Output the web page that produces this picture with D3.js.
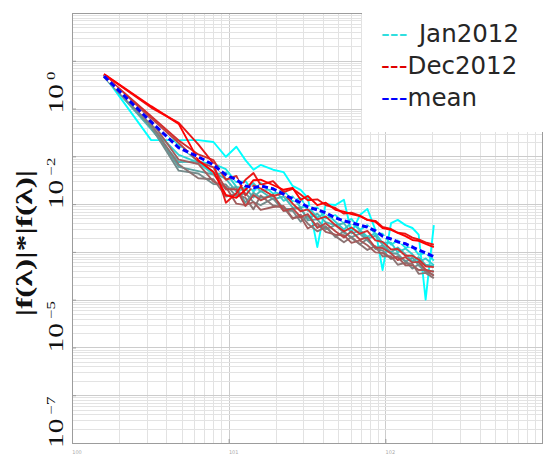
<!DOCTYPE html>
<html>
<head>
<meta charset="utf-8">
<script src="https://cdn.jsdelivr.net/npm/d3@7"></script>
<style>
  body { margin: 0; background: #fff; }
</style>
</head>
<body>
<script>
// frequency points shared by every curve
var freq = [1.6, 3.2, 4.8, 6.4, 8, 9.6, 11.2, 12.8, 14.4, 16, 19.2, 22.4, 25.6, 28.8, 32, 36.8,
            41.6, 48, 54.4, 60.8, 68.8, 76.8, 86.4, 96, 108.8, 120, 134.4, 148.8, 163.2, 180.8, 204];

// log10 of |f(λ)|*|f(λ)| per month
var jan2012 = [0.70, -0.66, -0.66, -0.66, -0.70, -1.01, -0.80, -1.08, -1.28, -1.18, -1.28, -1.33, -1.62, -1.70, -1.87, -2.90, -2.00, -2.02, -1.91, -2.60, -2.23, -2.10, -2.54, -3.38, -2.40, -2.33, -2.44, -2.50, -2.64, -4.00, -2.44];
var feb2012 = [0.68, -0.33, -0.77, -1.11, -1.16, -1.27, -1.54, -1.52, -1.74, -1.56, -1.78, -1.71, -1.94, -1.87, -2.14, -2.07, -2.30, -2.23, -2.39, -2.31, -2.54, -2.44, -2.62, -2.62, -2.85, -2.76, -2.91, -2.88, -3.06, -3.02, -3.18];
var mar2012 = [0.70, -0.38, -0.97, -1.13, -1.38, -1.34, -1.64, -1.67, -1.56, -1.74, -1.66, -1.93, -1.84, -2.07, -2.04, -2.28, -2.18, -2.37, -2.53, -2.39, -2.54, -2.68, -2.61, -2.81, -2.81, -3.01, -2.93, -3.05, -3.21, -3.14, -3.28];
var apr2012 = [0.68, -0.43, -1.12, -1.11, -1.33, -1.47, -1.74, -1.67, -1.86, -1.72, -1.90, -1.84, -2.07, -2.09, -2.31, -2.20, -2.38, -2.44, -2.40, -2.61, -2.56, -2.73, -2.66, -2.85, -3.01, -2.91, -3.05, -3.20, -3.11, -3.27, -3.30];
var may2012 = [0.66, -0.40, -1.22, -1.31, -1.38, -1.69, -1.64, -1.97, -1.76, -1.87, -1.83, -2.09, -2.11, -2.07, -2.34, -2.32, -2.53, -2.44, -2.60, -2.69, -2.62, -2.76, -2.91, -2.87, -3.03, -3.04, -3.21, -3.12, -3.28, -3.42, -3.40];
var jun2012 = [0.68, -0.38, -1.30, -1.36, -1.58, -1.59, -1.84, -1.77, -1.96, -2.02, -1.88, -2.14, -2.14, -2.37, -2.24, -2.47, -2.46, -2.69, -2.57, -2.71, -2.84, -2.73, -2.94, -2.97, -3.15, -3.09, -3.19, -3.35, -3.26, -3.42, -3.48];
var jul2012 = [0.70, -0.33, -1.17, -1.46, -1.48, -1.84, -1.79, -1.87, -2.11, -1.82, -2.03, -2.07, -2.31, -2.22, -2.41, -2.57, -2.48, -2.67, -2.80, -2.69, -2.84, -2.96, -2.88, -3.09, -3.09, -3.27, -3.23, -3.25, -3.46, -3.44, -3.55];
var aug2012 = [0.68, -0.26, -1.07, -1.16, -1.53, -1.64, -1.99, -2.02, -1.96, -2.12, -2.06, -2.04, -2.29, -2.27, -2.51, -2.40, -2.58, -2.64, -2.65, -2.81, -2.76, -2.86, -3.01, -3.02, -3.13, -3.11, -3.28, -3.28, -3.38, -3.38, -3.50];
var sep2012 = [0.70, -0.20, -0.72, -1.11, -1.23, -1.69, -1.69, -2.04, -1.81, -1.92, -1.80, -2.14, -2.09, -2.27, -2.21, -2.50, -2.40, -2.57, -2.70, -2.57, -2.74, -2.70, -2.91, -2.92, -3.03, -3.17, -3.11, -3.22, -3.21, -3.37, -3.42];
var oct2012 = [0.70, -0.16, -0.67, -0.96, -1.08, -1.49, -1.41, -1.82, -1.61, -1.67, -1.83, -1.77, -1.99, -2.15, -2.11, -2.32, -2.26, -2.44, -2.57, -2.49, -2.62, -2.56, -2.76, -2.79, -2.95, -2.94, -3.08, -3.08, -3.16, -3.30, -3.32];
var nov2012 = [0.72, 0.02, -0.30, -0.75, -1.15, -1.97, -1.77, -1.49, -1.35, -1.60, -1.52, -1.75, -1.68, -1.80, -1.92, -1.90, -2.02, -2.08, -2.20, -2.18, -2.24, -2.33, -2.35, -2.48, -2.52, -2.60, -2.62, -2.70, -2.74, -2.80, -2.85];
var dec2012 = [0.72, 0.05, -0.32, -1.08, -1.33, -1.81, -1.87, -1.70, -1.50, -1.49, -1.60, -1.70, -1.66, -1.91, -1.83, -2.02, -1.97, -2.12, -2.16, -2.21, -2.25, -2.33, -2.37, -2.50, -2.54, -2.60, -2.67, -2.75, -2.77, -2.83, -2.90];
var meanLog = [0.68, -0.28, -0.82, -1.01, -1.18, -1.39, -1.49, -1.62, -1.66, -1.62, -1.68, -1.79, -1.89, -1.97, -2.06, -2.12, -2.18, -2.29, -2.35, -2.39, -2.44, -2.48, -2.56, -2.67, -2.73, -2.79, -2.83, -2.90, -2.96, -3.02, -3.10];

var legendNames = ["Jan2012", "Dec2012", "mean"];
var legendColors = ["#30dede", "#e00000", "#0000ff"];
var yTickValues = [1, 1e-2, 1e-5, 1e-7];
var yTickExp = ["0", "\u22122", "\u22125", "\u22127"];
var xTickValues = [1, 10, 100];
var xTickExp = ["0", "1", "2"];
var yLabel = "|f(\u03bb)|*|f(\u03bb)|";

var W = 547, H = 462;
var plotL = 72, plotR = 542, plotT = 13, plotB = 443;

var months = [jan2012, feb2012, mar2012, apr2012, may2012, jun2012,
              jul2012, aug2012, sep2012, oct2012, nov2012, dec2012];
var monthColor = d3.interpolateRgb("#00ffff", "#ff0000");

var x = d3.scaleLog().domain([1, 1000]).range([plotL, plotR]);
var y = d3.scaleLog().domain([1e-7, 1e2]).range([plotB, plotT]);

var svg = d3.select("body").append("svg")
    .attr("width", W)
    .attr("height", H)
    .style("font-family", "'DejaVu Sans', sans-serif");

// log grid
var xGrid = [], yGrid = [];
for (var d = 0; d < 3; d++)
  for (var k = 1; k < 10; k++) xGrid.push({v: k * Math.pow(10, d), major: k === 1});
for (var e = -7; e < 2; e++)
  for (var k = 1; k < 10; k++) yGrid.push({v: k * Math.pow(10, e), major: k === 1});

var grid = svg.append("g");
grid.selectAll(".gx").data(xGrid).enter().append("line")
    .attr("x1", function(d) { return Math.round(x(d.v)) + 0.5; })
    .attr("x2", function(d) { return Math.round(x(d.v)) + 0.5; })
    .attr("y1", plotT).attr("y2", plotB)
    .attr("stroke", function(d) { return d.major ? "#cccccc" : "#e2e2e2"; });
grid.selectAll(".gy").data(yGrid).enter().append("line")
    .attr("y1", function(d) { return Math.round(y(d.v)) + 0.5; })
    .attr("y2", function(d) { return Math.round(y(d.v)) + 0.5; })
    .attr("x1", plotL).attr("x2", plotR)
    .attr("stroke", function(d) { return d.major ? "#cccccc" : "#e3e3e3"; });

// axes: inward ticks, no labels from d3
svg.append("g")
    .attr("transform", "translate(" + plotL + ",0)")
    .call(d3.axisLeft(y).tickValues(yGrid.filter(function(d) { return d.major; }).map(function(d) { return d.v; }))
        .tickSize(-4).tickFormat(""))
    .call(function(g) { g.select(".domain").remove(); g.selectAll("line").attr("stroke", "#999"); });
svg.append("g")
    .attr("transform", "translate(0," + plotB + ")")
    .call(d3.axisBottom(x).tickValues(xGrid.filter(function(d) { return d.major; }).map(function(d) { return d.v; }))
        .tickSize(-4).tickFormat(""))
    .call(function(g) { g.select(".domain").remove(); g.selectAll("line").attr("stroke", "#999"); });

svg.append("rect")
    .attr("x", plotL + 0.5).attr("y", plotT + 0.5)
    .attr("width", plotR - plotL).attr("height", plotB - plotT)
    .attr("fill", "none").attr("stroke", "#9c9c9c");

// monthly curves
var line = d3.line()
    .x(function(d, i) { return x(freq[i]); })
    .y(function(d) { return y(Math.pow(10, d)); });

svg.append("g").selectAll("path")
    .data(months)
    .enter().append("path")
    .attr("d", line)
    .attr("fill", "none")
    .attr("stroke", function(d, i) { return monthColor(i / 11); })
    .attr("stroke-width", 1.9)
    .attr("stroke-linejoin", "round");

// mean
svg.append("path")
    .attr("d", line(meanLog))
    .attr("fill", "none")
    .attr("stroke", "#fff")
    .attr("stroke-width", 2);
svg.append("path")
    .attr("d", line(meanLog))
    .attr("fill", "none")
    .attr("stroke", "#0000ff")
    .attr("stroke-width", 3)
    .attr("stroke-dasharray", "6,3");

// y tick labels, rotated
var yLab = svg.append("g").selectAll("text")
    .data(yTickValues)
    .enter().append("text")
    .attr("transform", function(d) { return "translate(63," + (y(d) + 5) + ") rotate(-90) scale(1.4,1)"; })
    .style("font-family", "'Liberation Serif', serif")
    .style("font-size", "21px")
    .attr("fill", "#111");
yLab.append("tspan").text("10");
yLab.append("tspan")
    .attr("dx", 3).attr("dy", -8)
    .style("font-size", "12px")
    .text(function(d, i) { return yTickExp[i]; });

// x tick labels (tiny in the original)
svg.append("g").selectAll("text")
    .data(xTickValues)
    .enter().append("text")
    .attr("x", function(d) { return x(d) + 5; })
    .attr("y", 454)
    .attr("text-anchor", "middle")
    .style("font-size", "5px")
    .attr("fill", "#aaa")
    .text(function(d, i) { return "10" + xTickExp[i]; });

// y axis label
svg.append("text")
    .attr("transform", "translate(32,243) rotate(-90) scale(1.4,1)")
    .attr("text-anchor", "middle")
    .style("font-family", "'Liberation Serif', serif")
    .style("font-size", "24px")
    .style("font-weight", "bold")
    .attr("fill", "#111")
    .text(yLabel);

// legend
svg.append("rect")
    .attr("x", 362).attr("y", 0)
    .attr("width", W - 362).attr("height", 132)
    .attr("fill", "#fff");

var leg = svg.append("g").selectAll("text")
    .data(legendNames)
    .enter().append("text")
    .attr("x", 381)
    .attr("y", function(d, i) { return 42 + i * 32; })
    .style("font-size", "24.5px");
leg.append("tspan")
    .attr("fill", function(d, i) { return legendColors[i]; })
    .text("---");
leg.append("tspan")
    .attr("dx", function(d, i) { return i === 0 ? 10 : 0; })
    .attr("fill", "#262626")
    .text(function(d) { return d; });
</script>
</body>
</html>
